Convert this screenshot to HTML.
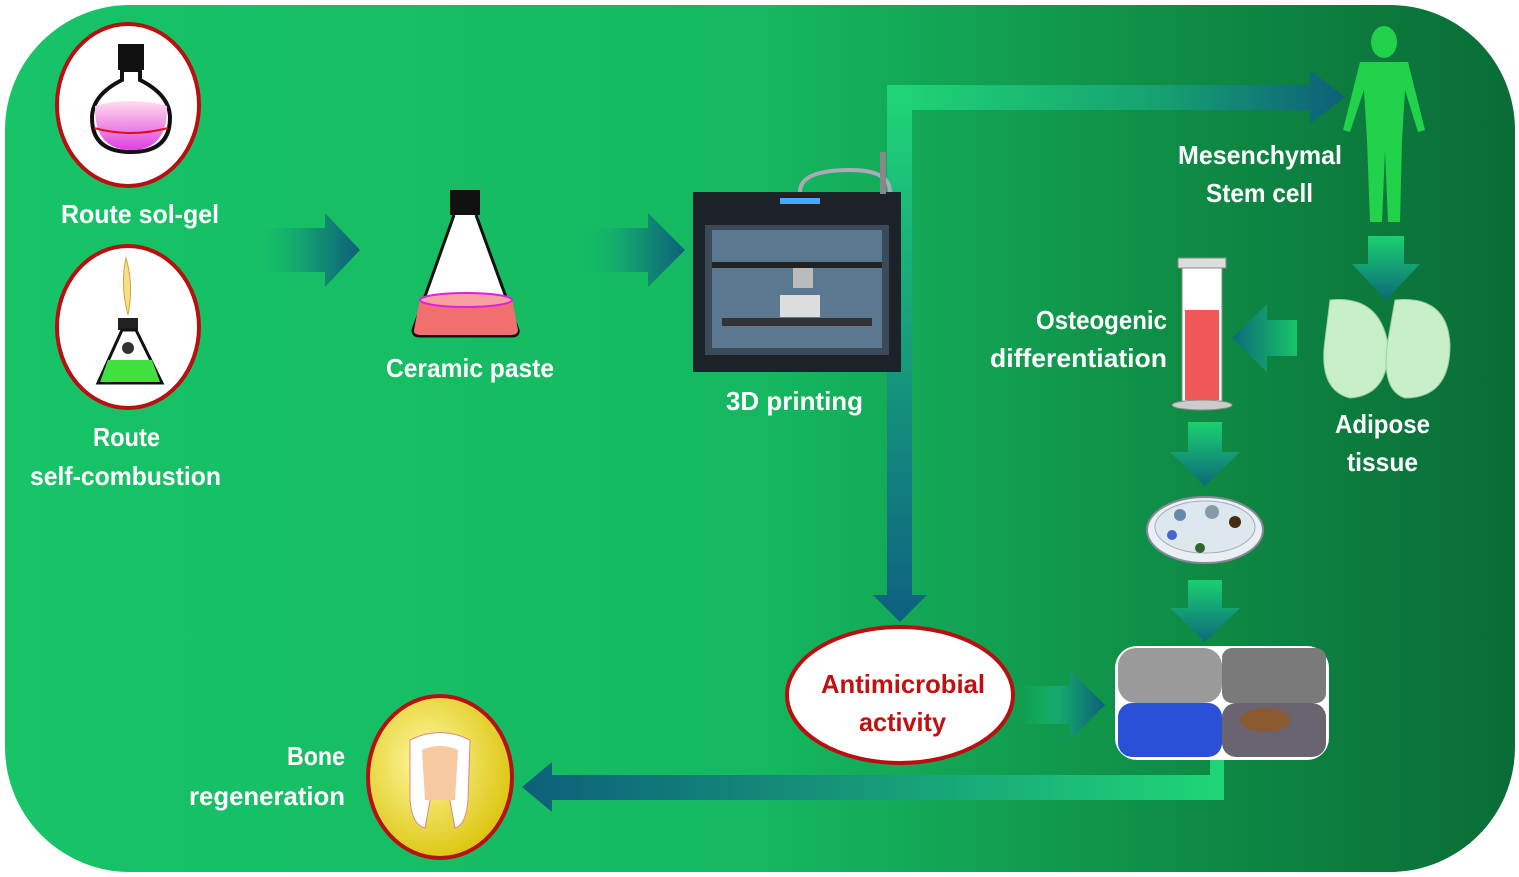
<!DOCTYPE html>
<html><head><meta charset="utf-8"><style>
html,body{margin:0;padding:0;background:#fff;width:1519px;height:877px;overflow:hidden}
svg{display:block}
text{font-family:"Liberation Sans",sans-serif;font-weight:bold;fill:#fff}
</style></head><body>
<svg width="1519" height="877" viewBox="0 0 1519 877" xmlns="http://www.w3.org/2000/svg">
<defs>
<linearGradient id="bg" x1="0" x2="1" y1="0" y2="0">
<stop offset="0" stop-color="#17c468"/><stop offset="0.5" stop-color="#15b860"/><stop offset="0.78" stop-color="#0e8c45"/><stop offset="1" stop-color="#0a6c37"/></linearGradient>
<linearGradient id="ar" x1="0" x2="1" y1="0" y2="0"><stop offset="0" stop-color="#18c468" stop-opacity="0"/><stop offset="0.45" stop-color="#14a86e"/><stop offset="1" stop-color="#0d5f7a"/></linearGradient>
<linearGradient id="al" x1="1" x2="0" y1="0" y2="0"><stop offset="0" stop-color="#18c468"/><stop offset="1" stop-color="#0d6a7a"/></linearGradient>
<linearGradient id="ad" x1="0" x2="0" y1="0" y2="1"><stop offset="0" stop-color="#1bd070"/><stop offset="1" stop-color="#0d6a7a"/></linearGradient>
<linearGradient id="hz" x1="0" x2="1"><stop offset="0" stop-color="#1fd676"/><stop offset="0.6" stop-color="#16a070"/><stop offset="1" stop-color="#0d5f7a"/></linearGradient>
<linearGradient id="vt" x1="0" x2="0" y1="0" y2="1"><stop offset="0" stop-color="#1fd676"/><stop offset="1" stop-color="#0d6080"/></linearGradient>
<linearGradient id="bt" x1="1" x2="0"><stop offset="0" stop-color="#1fd676"/><stop offset="1" stop-color="#0d5f7a"/></linearGradient>
<radialGradient id="yl" cx="0.4" cy="0.4" r="0.7"><stop offset="0" stop-color="#fff8a0"/><stop offset="1" stop-color="#d8c000"/></radialGradient>
<linearGradient id="pk" x1="0" x2="0" y1="0" y2="1"><stop offset="0" stop-color="#fde"/><stop offset="1" stop-color="#e040e0"/></linearGradient>
</defs>
<rect x="5" y="5" width="1510" height="867" rx="125" fill="url(#bg)"/>

<!-- circle 1 -->
<ellipse cx="128" cy="105" rx="71" ry="81" fill="#fff" stroke="#b81010" stroke-width="4"/>
<rect x="118" y="44" width="26" height="26" fill="#111"/>
<path d="M122 70 L122 80 Q92 95 92 118 Q92 152 131 152 Q170 152 170 118 Q170 95 140 80 L140 70Z" fill="#fff" stroke="#111" stroke-width="4"/>
<path d="M95 106 Q131 96 167 106 Q168 150 131 150 Q94 150 95 106Z" fill="url(#pk)"/>
<path d="M94 128 Q131 138 168 128" stroke="#e01010" stroke-width="2" fill="none"/>
<text x="61" y="223" font-size="26" textLength="158" lengthAdjust="spacingAndGlyphs">Route sol-gel</text>

<!-- circle 2 -->
<ellipse cx="128" cy="327" rx="71" ry="81" fill="#fff" stroke="#b81010" stroke-width="4"/>
<path d="M126 258 Q120 285 128 315 Q134 285 126 258Z" fill="#f5e08a" stroke="#d8a030"/>
<rect x="118" y="318" width="20" height="12" fill="#222"/>
<path d="M122 330 L98 383 L162 383 L136 330Z" fill="#fff" stroke="#111" stroke-width="3"/>
<path d="M108 360 L152 360 L160 382 L100 382Z" fill="#40e040"/>
<circle cx="128" cy="348" r="6" fill="#333"/>
<text x="93" y="446" font-size="26" textLength="67" lengthAdjust="spacingAndGlyphs">Route</text>
<text x="30" y="485" font-size="26" textLength="191" lengthAdjust="spacingAndGlyphs">self-combustion</text>

<!-- arrows -->
<path d="M245 228 L325 228 L325 213 L360 250 L325 287 L325 272 L245 272Z" fill="url(#ar)"/>
<path d="M568 228 L648 228 L648 213 L685 250 L648 287 L648 272 L568 272Z" fill="url(#ar)"/>

<!-- flask -->
<rect x="450" y="190" width="30" height="25" fill="#111"/>
<path d="M454 215 L413 330 Q413 336 420 336 L512 336 Q519 336 518 330 L476 215" fill="#fff" stroke="#111" stroke-width="3"/>
<path d="M420 298 Q466 288 512 298 L518 330 Q518 335 510 335 L422 335 Q413 335 414 330Z" fill="#f07070"/>
<ellipse cx="466" cy="300" rx="46" ry="7" fill="#f9a0a0" stroke="#e020e0" stroke-width="2"/>
<text x="386" y="377" font-size="26" textLength="168" lengthAdjust="spacingAndGlyphs">Ceramic paste</text>

<!-- big connector -->
<path d="M887 85 L1310 85 L1310 70 L1345 97 L1310 124 L1310 110 L912 110 Z" fill="url(#hz)"/>
<path d="M887 85 L912 85 L912 595 L927 595 L900 622 L873 595 L887 595Z" fill="url(#vt)"/>

<!-- printer -->
<rect x="693" y="192" width="208" height="180" fill="#1c2228"/>
<rect x="705" y="225" width="184" height="130" fill="#3a4a58"/>
<rect x="712" y="230" width="170" height="118" fill="#5a7890"/>
<rect x="712" y="262" width="170" height="6" fill="#222"/>
<rect x="722" y="318" width="150" height="8" fill="#333"/>
<rect x="780" y="295" width="40" height="22" fill="#ddd"/>
<rect x="793" y="268" width="20" height="20" fill="#bbb"/>
<path d="M800 192 Q800 170 850 170 Q890 170 890 192" fill="none" stroke="#aab" stroke-width="4"/>
<rect x="880" y="152" width="6" height="42" fill="#888"/>
<rect x="780" y="198" width="40" height="6" fill="#4af"/>
<text x="726" y="410" font-size="26" textLength="137" lengthAdjust="spacingAndGlyphs">3D printing</text>

<!-- human -->
<g fill="#22d24a">
<ellipse cx="1384" cy="42" rx="13" ry="16"/>
<path d="M1360 62 L1408 62 L1425 130 L1418 132 L1405 90 L1402 140 L1400 222 L1388 222 L1385 150 L1382 222 L1370 222 L1367 140 L1364 90 L1350 132 L1343 130Z"/>
</g>
<text x="1178" y="164" font-size="26" textLength="164" lengthAdjust="spacingAndGlyphs">Mesenchymal</text>
<text x="1206" y="202" font-size="26" textLength="107" lengthAdjust="spacingAndGlyphs">Stem cell</text>
<path d="M1368 236 L1404 236 L1404 264 L1420 264 L1386 300 L1352 264 L1368 264Z" fill="url(#ad)"/>

<!-- adipose -->
<path d="M1330 300 Q1380 295 1388 345 Q1390 395 1350 398 Q1318 390 1325 340Z" fill="#c8f0c8" stroke="#9cd09c"/>
<path d="M1395 300 Q1448 295 1450 345 Q1450 398 1405 398 Q1380 390 1388 340Z" fill="#c8f0c8" stroke="#9cd09c"/>
<text x="1335" y="433" font-size="26" textLength="95" lengthAdjust="spacingAndGlyphs">Adipose</text>
<text x="1347" y="471" font-size="26" textLength="71" lengthAdjust="spacingAndGlyphs">tissue</text>
<path d="M1297 320 L1297 356 L1267 356 L1267 372 L1232 338 L1267 304 L1267 320Z" fill="url(#al)"/>

<!-- cylinder -->
<rect x="1182" y="262" width="40" height="140" fill="#fff" stroke="#888"/>
<rect x="1178" y="258" width="48" height="10" fill="#ddd" stroke="#888"/>
<rect x="1185" y="310" width="34" height="90" fill="#f05858"/>
<ellipse cx="1202" cy="405" rx="30" ry="5" fill="#ccc" stroke="#888"/>
<text x="1036" y="329" font-size="26" textLength="131" lengthAdjust="spacingAndGlyphs">Osteogenic</text>
<text x="990" y="367" font-size="26" textLength="177" lengthAdjust="spacingAndGlyphs">differentiation</text>
<path d="M1188 422 L1222 422 L1222 452 L1240 452 L1205 486 L1170 452 L1188 452Z" fill="url(#ad)"/>

<!-- petri -->
<ellipse cx="1205" cy="530" rx="58" ry="33" fill="#e8f0f4" stroke="#889" stroke-width="2"/>
<ellipse cx="1205" cy="527" rx="50" ry="26" fill="#dde8ee" stroke="#aab"/>
<circle cx="1180" cy="515" r="6" fill="#6688aa"/><circle cx="1235" cy="522" r="6" fill="#4a2a10"/><circle cx="1200" cy="548" r="5" fill="#2a6a2a"/><circle cx="1172" cy="535" r="5" fill="#4466cc"/><circle cx="1212" cy="512" r="7" fill="#8899aa"/>
<path d="M1188 580 L1222 580 L1222 608 L1240 608 L1205 642 L1170 608 L1188 608Z" fill="url(#ad)"/>

<!-- images -->
<rect x="1115" y="646" width="214" height="114" rx="22" fill="#fff"/>
<rect x="1118" y="648" width="104" height="55" rx="18" fill="#9a9a9a"/>
<rect x="1222" y="648" width="104" height="55" rx="10" fill="#7a7a7a"/>
<rect x="1118" y="703" width="104" height="54" rx="14" fill="#2a50d8"/>
<rect x="1222" y="703" width="104" height="54" rx="14" fill="#6a6470"/>
<ellipse cx="1265" cy="720" rx="25" ry="12" fill="#8a5a30"/>

<!-- antimicrobial -->
<ellipse cx="900" cy="695" rx="113" ry="68" fill="#fff" stroke="#b81010" stroke-width="4"/>
<text x="821" y="693" font-size="26" textLength="164" lengthAdjust="spacingAndGlyphs" style="fill:#c01010">Antimicrobial</text>
<text x="859" y="731" font-size="26" textLength="87" lengthAdjust="spacingAndGlyphs" style="fill:#c01010">activity</text>
<path d="M1022 686 L1070 686 L1070 670 L1105 705 L1070 740 L1070 724 L1022 724Z" fill="url(#ar)"/>

<!-- bottom connector -->
<path d="M1210 760 L1224 760 L1224 800 L552 800 L552 812 L522 787 L552 762 L552 775 L1210 775Z" fill="url(#bt)"/>

<!-- tooth -->
<ellipse cx="440" cy="777" rx="72" ry="81" fill="url(#yl)" stroke="#b81010" stroke-width="4"/>
<path d="M410 740 Q440 725 470 740 L468 800 Q466 825 455 828 L448 790 L432 790 L425 828 Q412 825 410 800Z" fill="#fff" stroke="#d88"/>
<path d="M422 750 Q440 742 458 750 L455 800 L425 800Z" fill="#f7c9a0"/>
<text x="287" y="765" font-size="26" textLength="58" lengthAdjust="spacingAndGlyphs">Bone</text>
<text x="189" y="805" font-size="26" textLength="156" lengthAdjust="spacingAndGlyphs">regeneration</text>
</svg>
</body></html>
